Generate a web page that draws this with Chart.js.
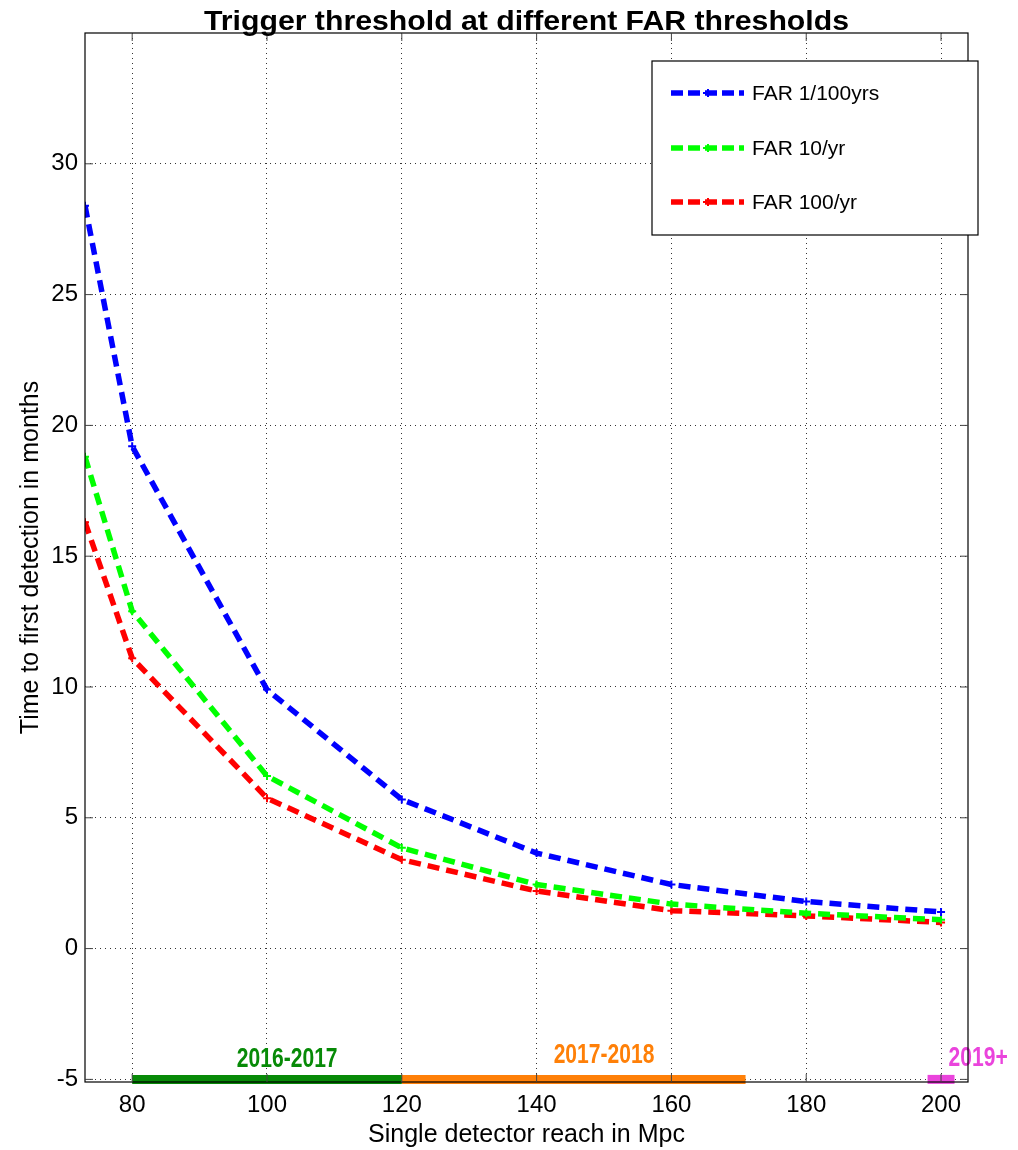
<!DOCTYPE html>
<html lang="en">
<head>
    <meta charset="UTF-8">
    <title>Trigger threshold at different FAR thresholds</title>
    <style>
        body {
            margin: 0;
            padding: 0;
            background: #fff;
        }

        .chart-box {
            width: 1018px;
            height: 1150px;
            position: relative;
        }
    </style>
</head>
<body>
    <div class="chart-box">
        <canvas id="farChart"></canvas>
    </div>

    <script src="https://cdn.jsdelivr.net/npm/chart.js"></script>
    <script>
        // Single detector reach (Mpc)
        const reach = [73, 80, 100, 120, 140, 160, 180, 200];
        // Time to first detection (months)
        const far1per100yrs = [28.4, 19.2, 9.9, 5.7, 3.65, 2.45, 1.8, 1.4];
        const far10perYr = [18.8, 12.9, 6.6, 3.85, 2.45, 1.7, 1.35, 1.1];
        const far100perYr = [16.3, 11.1, 5.75, 3.4, 2.2, 1.45, 1.25, 1.0];

        const seriesNames = ['FAR 1/100yrs', 'FAR 10/yr', 'FAR 100/yr'];
        const chartTitle = 'Trigger threshold at different FAR thresholds';

        // observing runs shown along the bottom
        const runLabels = ['2016-2017', '2017-2018', '2019+'];
        const runStart = [80, 120, 198];
        const runEnd = [120, 171, 202];
        const runLevel = -5;
        const runLabelX = [103, 150, 205.5];
        const runLabelY = [-4.25, -4.1, -4.2];

        const xTicks = [80, 100, 120, 140, 160, 180, 200];
        const yTicks = [-5, 0, 5, 10, 15, 20, 25, 30];

        const lineColors = ['#0000ff', '#00ff00', '#ff0000'];
        const runColors = ['#078a07', '#ff8008', '#ea44dc'];

        const FONT = '"Liberation Sans", Arial, sans-serif';

        const toPoints = (ys) => ys.map((y, i) => ({ x: reach[i], y: y }));

        const lineSets = [far1per100yrs, far10perYr, far100perYr].map((ys, i) => ({
            label: seriesNames[i],
            data: toPoints(ys),
            borderColor: lineColors[i],
            backgroundColor: lineColors[i],
            borderWidth: 5.5,
            borderDash: [12, 7],
            pointStyle: 'cross',
            pointRadius: 4,
            pointBorderWidth: 2,
            pointBorderColor: lineColors[i],
            tension: 0,
            fill: false
        }));

        const runSets = runLabels.map((name, i) => ({
            label: name,
            data: [{ x: runStart[i], y: runLevel }, { x: runEnd[i], y: runLevel }],
            borderColor: runColors[i],
            borderWidth: 9,
            borderCapStyle: 'butt',
            pointRadius: 0,
            fill: false,
            clip: false
        }));

        // title, stretched a bit like the original export
        const wideTitle = {
            id: 'wideTitle',
            afterDraw(chart) {
                const a = chart.chartArea;
                const ctx = chart.ctx;
                ctx.save();
                ctx.font = 'bold 27px ' + FONT;
                const w = ctx.measureText(chartTitle).width;
                ctx.translate((a.left + a.right) / 2, 30);
                ctx.scale(645 / w, 1);
                ctx.fillStyle = '#000';
                ctx.textAlign = 'center';
                ctx.textBaseline = 'alphabetic';
                ctx.fillText(chartTitle, 0, 0);
                ctx.restore();
            }
        };

        // box around the plot area with inward tick marks
        const frame = {
            id: 'frame',
            afterDraw(chart) {
                const a = chart.chartArea;
                const ctx = chart.ctx;
                const xs = chart.scales.x, ys = chart.scales.y;
                ctx.save();
                ctx.strokeStyle = '#000';
                ctx.lineWidth = 1.2;
                ctx.strokeRect(a.left, a.top, a.right - a.left, a.bottom - a.top);
                ctx.strokeStyle = '#444';
                ctx.lineWidth = 1;
                ctx.beginPath();
                xTicks.forEach(v => {
                    const px = xs.getPixelForValue(v);
                    ctx.moveTo(px, a.bottom); ctx.lineTo(px, a.bottom - 8);
                    ctx.moveTo(px, a.top); ctx.lineTo(px, a.top + 8);
                });
                yTicks.forEach(v => {
                    const py = ys.getPixelForValue(v);
                    ctx.moveTo(a.left, py); ctx.lineTo(a.left + 8, py);
                    ctx.moveTo(a.right, py); ctx.lineTo(a.right - 8, py);
                });
                ctx.stroke();
                ctx.restore();
            }
        };

        const runText = {
            id: 'runText',
            afterDatasetsDraw(chart) {
                const ctx = chart.ctx;
                const xs = chart.scales.x, ys = chart.scales.y;
                runLabels.forEach((t, i) => {
                    ctx.save();
                    ctx.translate(xs.getPixelForValue(runLabelX[i]), ys.getPixelForValue(runLabelY[i]));
                    ctx.scale(0.78, 1);
                    ctx.font = 'bold 27px ' + FONT;
                    ctx.textAlign = 'center';
                    ctx.textBaseline = 'middle';
                    ctx.fillStyle = runColors[i];
                    ctx.fillText(t, 0, 0);
                    ctx.restore();
                });
            }
        };

        const boxLegend = {
            id: 'boxLegend',
            afterDraw(chart) {
                const ctx = chart.ctx;
                const bx = 652, by = 61, bw = 326, bh = 174;
                ctx.save();
                ctx.fillStyle = '#fff';
                ctx.fillRect(bx, by, bw, bh);
                ctx.strokeStyle = '#000';
                ctx.lineWidth = 1.2;
                ctx.strokeRect(bx, by, bw, bh);
                const rows = [93, 148, 202];
                lineSets.forEach((ds, i) => {
                    const y = rows[i];
                    ctx.strokeStyle = ds.borderColor;
                    ctx.lineWidth = 5.5;
                    ctx.setLineDash([12, 5]);
                    ctx.beginPath();
                    ctx.moveTo(671, y);
                    ctx.lineTo(744, y);
                    ctx.stroke();
                    ctx.setLineDash([]);
                    ctx.lineWidth = 2;
                    ctx.beginPath();
                    ctx.moveTo(708, y - 4); ctx.lineTo(708, y + 4);
                    ctx.moveTo(703, y); ctx.lineTo(713, y);
                    ctx.stroke();
                    ctx.fillStyle = '#000';
                    ctx.font = '21px ' + FONT;
                    ctx.textAlign = 'left';
                    ctx.textBaseline = 'middle';
                    ctx.fillText(ds.label, 752, y + 1);
                });
                ctx.restore();
            }
        };

        const tickFont = { family: FONT, size: 24 };
        const titleFont = { family: FONT, size: 25, lineHeight: 1 };
        const gridOpts = { color: '#333', lineWidth: 1, drawTicks: false };

        new Chart(document.getElementById('farChart'), {
            type: 'line',
            data: { datasets: [...runSets, ...lineSets] },
            options: {
                responsive: true,
                maintainAspectRatio: false,
                animation: false,
                layout: { padding: { left: 0, right: 50, top: 33, bottom: 0 } },
                plugins: {
                    legend: { display: false },
                    tooltip: { enabled: false },
                    title: { display: false }
                },
                scales: {
                    x: {
                        type: 'linear',
                        min: 73,
                        max: 204,
                        afterBuildTicks: (s) => { s.ticks = xTicks.map(v => ({ value: v })); },
                        afterFit: (s) => { s.height = 68; },
                        ticks: { color: '#000', font: tickFont, padding: 9, maxRotation: 0 },
                        grid: gridOpts,
                        border: { display: false, dash: [1, 4] },
                        title: {
                            display: true,
                            text: 'Single detector reach in Mpc',
                            color: '#000',
                            font: titleFont,
                            padding: { top: 0, bottom: 2 }
                        }
                    },
                    y: {
                        type: 'linear',
                        min: -5.1,
                        max: 35,
                        afterBuildTicks: (s) => { s.ticks = yTicks.map(v => ({ value: v })); },
                        afterFit: (s) => { s.width = 85; },
                        ticks: { color: '#000', font: tickFont, padding: 7 },
                        grid: gridOpts,
                        border: { display: false, dash: [1, 4] },
                        title: {
                            display: true,
                            text: 'Time to first detection in months',
                            color: '#000',
                            font: titleFont,
                            padding: { top: 19, bottom: 0 }
                        }
                    }
                }
            },
            plugins: [frame, runText, boxLegend, wideTitle]
        });
    </script>
</body>
</html>
